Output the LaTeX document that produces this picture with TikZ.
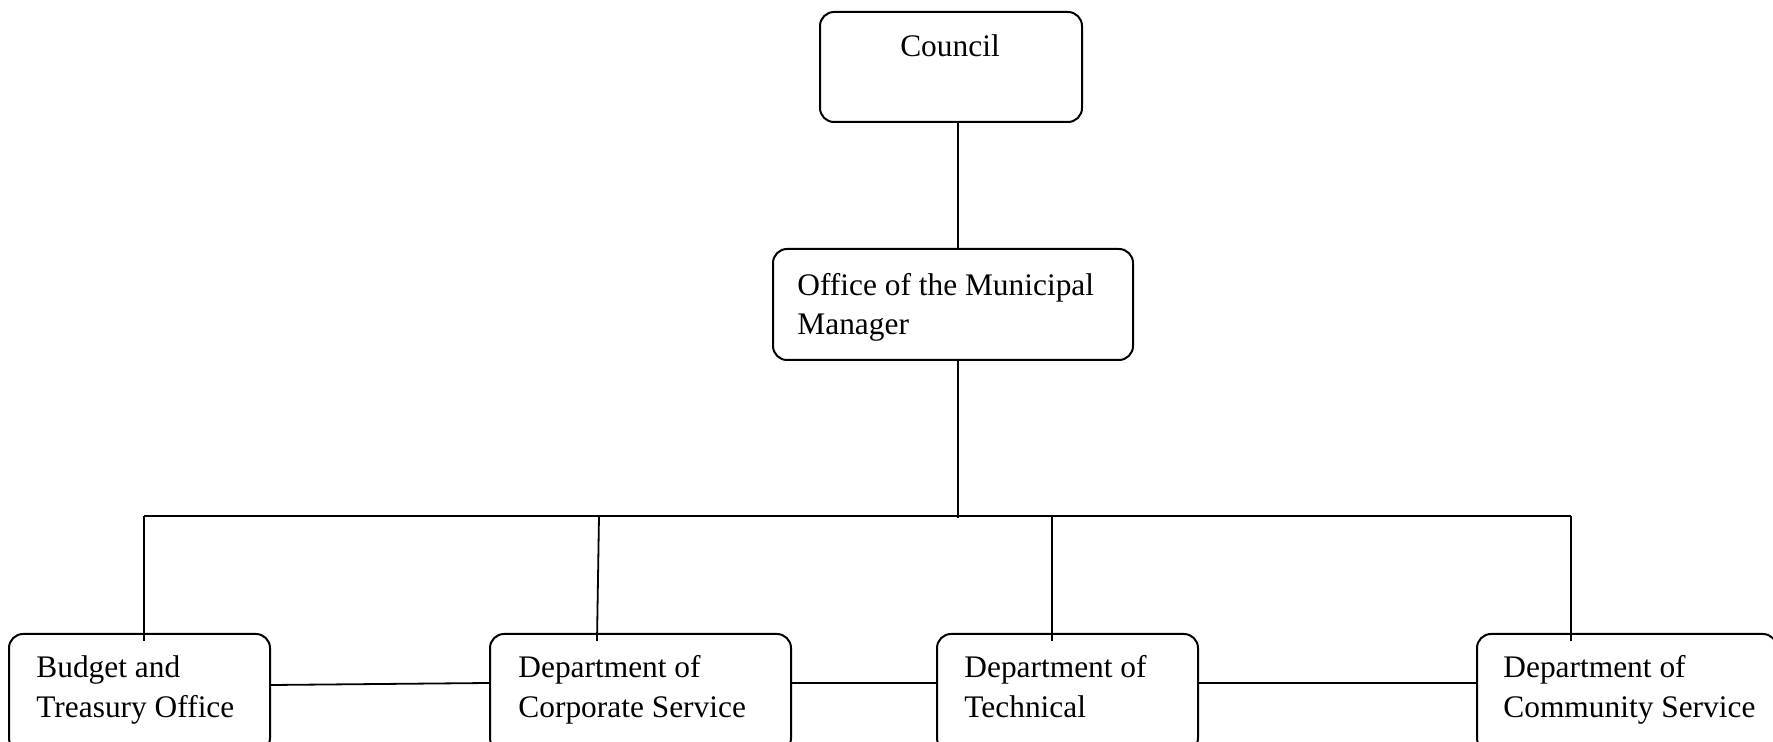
\documentclass[tikz,border=0pt]{standalone}
\usepackage{fontspec}
\setmainfont{Liberation Serif}
\begin{document}
\begin{tikzpicture}[x=0.5pt,y=-0.5pt,
  box/.style={draw, line width=1pt, rounded corners=7pt, inner sep=0pt, minimum height=55.5pt},
  lbl/.style={anchor=base west, inner sep=0pt, font=\fontsize{15.7}{19.75}\selectfont},
  conn/.style={line width=0.9pt}]
\useasboundingbox (0,0) rectangle (1773,742);
% boxes
\node[box, minimum width=131pt, minimum height=55pt] (council) at (951,67) {};
\node[box, minimum width=180pt] (office) at (953,304.5) {};
\node[box, minimum width=130.5pt, minimum height=59pt] (budget) at (139.5,693) {};
\node[box, minimum width=150.5pt, minimum height=59pt] (corp) at (640.5,693) {};
\node[box, minimum width=130.5pt, minimum height=59pt] (tech) at (1067.5,693) {};
\node[box, minimum width=150pt, minimum height=59pt] (comm) at (1627,693) {};
% texts
\node[lbl, anchor=base] (councilt) at (950,57) {Council};
\node[lbl] (officet1) at (797,295.5) {Office of the Municipal};
\node[lbl] (officet2) at (797,334.5) {Manager};
\node[lbl] (budgett1) at (36,678) {Budget and};
\node[lbl] (budgett2) at (36,718) {Treasury Office};
\node[lbl] (corpt1) at (518,678) {Department of};
\node[lbl] (corpt2) at (518,718) {Corporate Service};
\node[lbl] (techt1) at (964,678) {Department of};
\node[lbl] (techt2) at (964,718) {Technical};
\node[lbl] (commt1) at (1503,678) {Department of};
\node[lbl] (commt2) at (1503,718) {Community Service};
% bus coordinates
\coordinate (busL) at (144,516);
\coordinate (busR) at (1571,516);
\coordinate (trunk) at (958,518);
\coordinate (corpTop) at (599,516);
\coordinate (techTop) at (1052,516);
% connectors
\draw[conn] (council.south -| trunk) -- (office.north -| trunk);
\draw[conn] (office.south -| trunk) -- (trunk);
\draw[conn] (busL) -- (busR);
\draw[conn] (busL) -- ([yshift=-4pt]budget.north -| busL);
\draw[conn] (corpTop) -- ([yshift=-4pt,xshift=-1pt]corp.north -| corpTop);
\draw[line width=1.1pt] (techTop) -- ([yshift=-4pt]tech.north -| techTop);
\draw[conn] (busR) -- ([yshift=-4pt]comm.north -| busR);
\draw[conn] ([yshift=4pt]budget.east) -- ([yshift=5pt]corp.west);
\draw[conn] ([yshift=5pt]corp.east) -- ([yshift=5pt]tech.west);
\draw[conn] ([yshift=5pt]tech.east) -- ([yshift=5pt]comm.west);
\end{tikzpicture}
\end{document}
